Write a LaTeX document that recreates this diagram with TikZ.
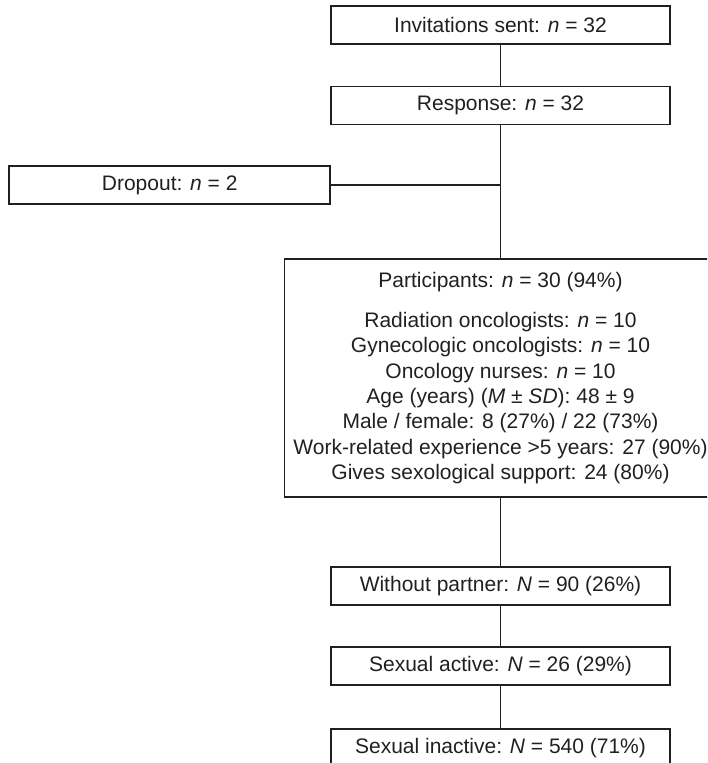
\documentclass[tikz,border=0pt]{standalone}
\usepackage{fontspec}
\setmainfont{Liberation Sans}
\usepackage{tikz}
\definecolor{ink}{RGB}{35,31,32}
\tikzset{
  flowbox/.style={draw=ink, text=ink, line width=0.85pt, inner sep=0pt,
    minimum width=169.5pt, minimum height=19pt, align=center,
    font=\fontsize{10.5}{12.7}\selectfont},
  flowline/.style={draw=ink, line width=0.85pt}
}

\begin{document}
\begin{tikzpicture}[x=0.5pt, y=-0.5pt]
    \clip (0,0) rectangle (707,763);

    \node [flowbox] (inv) at (500.5,25) {Invitations sent: \textit{n} = 32};
    \node [flowbox] (resp) at (500.5,105.5) {Response: \textit{n} = 32};
    \node [flowbox, minimum width=160.4pt] (drop) at (169.7,185) {Dropout: \textit{n} = 2};

    \node [flowbox, minimum width=216pt, minimum height=118.7pt] (part) at (500.5,378)
      {Participants: \textit{n} = 30 (94\%)\\[7.3pt]
       Radiation oncologists: \textit{n} = 10\\
       Gynecologic oncologists: \textit{n} = 10\\
       Oncology nurses: \textit{n} = 10\\
       Age (years) (\textit{M ± SD}): 48 ± 9\\
       Male / female: 8 (27\%) / 22 (73\%)\\
       Work-related experience >5 years: 27 (90\%)\\
       Gives sexological support: 24 (80\%)};

    \node [flowbox] (nopart) at (500.5,586) {Without partner: \textit{N} = 90 (26\%)};
    \node [flowbox] (active) at (500.5,666) {Sexual active: \textit{N} = 26 (29\%)};
    \node [flowbox] (inactive) at (500.5,748) {Sexual inactive: \textit{N} = 540 (71\%)};

    \draw [flowline] (inv) -- (resp);
    \draw [flowline] (resp) -- (part);
    \draw [flowline] (drop.east) -- (drop.east -| resp.south);
    \draw [flowline] (part) -- (nopart);
    \draw [flowline] (nopart) -- (active);
    \draw [flowline] (active) -- (inactive);

  \end{tikzpicture}
\end{document}
